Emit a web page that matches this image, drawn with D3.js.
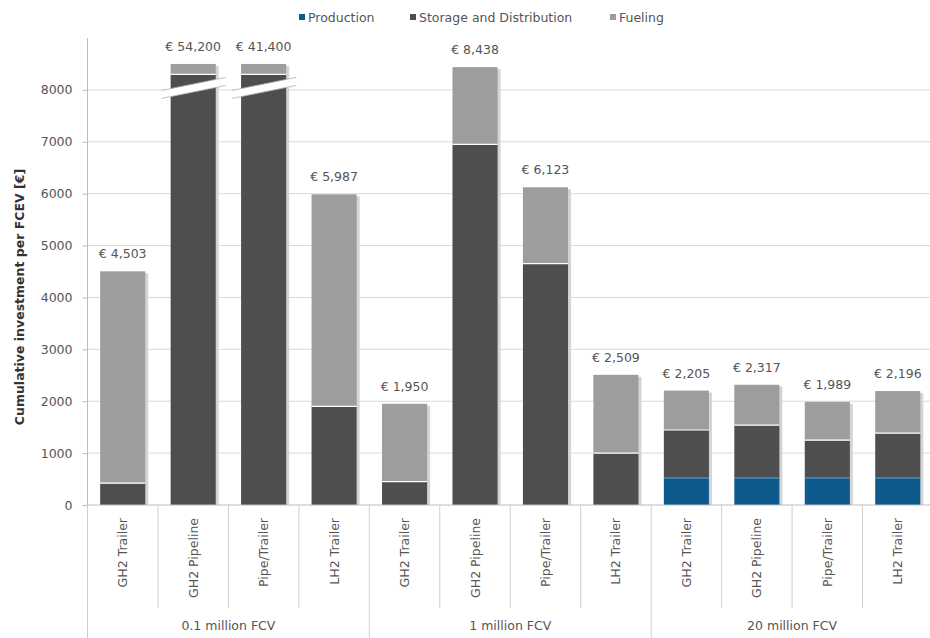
<!DOCTYPE html>
<html><head><meta charset="utf-8">
<script src="https://cdn.jsdelivr.net/npm/d3@7/dist/d3.min.js"></script>
<style>body{margin:0;background:#fff} text{font-family:"DejaVu Sans",sans-serif}</style>
</head><body><svg id="c" width="930" height="638"></svg>
<script>
const groups = ["0.1 million FCV", "1 million FCV", "20 million FCV"];
const categories = ["GH2 Trailer","GH2 Pipeline","Pipe/Trailer","LH2 Trailer",
                    "GH2 Trailer","GH2 Pipeline","Pipe/Trailer","LH2 Trailer",
                    "GH2 Trailer","GH2 Pipeline","Pipe/Trailer","LH2 Trailer"];
const production = [0, 0, 0, 0, 0, 0, 0, 0, 520, 520, 520, 520];
const storage    = [420, 53700, 40900, 1900, 450, 6950, 4650, 1000, 925, 1020, 730, 865];
const fueling    = [4083, 500, 500, 4087, 1500, 1488, 1473, 1509, 760, 777, 739, 811];
const totals     = [4503, 54200, 41400, 5987, 1950, 8438, 6123, 2509, 2205, 2317, 1989, 2196];
const totalLabels = ["€ 4,503","€ 54,200","€ 41,400","€ 5,987","€ 1,950","€ 8,438","€ 6,123","€ 2,509","€ 2,205","€ 2,317","€ 1,989","€ 2,196"];
const yTicks = [0,1000,2000,3000,4000,5000,6000,7000,8000];
const seriesNames = ["Production","Storage and Distribution","Fueling"];
const colors = ["#0d5b8c","#4e4e50","#9d9da0"];
const axisCap = 8500, breakAt = 8300;

const svg = d3.select("#c");
const x = d3.scaleBand().domain(d3.range(categories.length)).range([87.5, 933]).paddingInner(0.36).paddingOuter(0.18);
const y = d3.scaleLinear().domain([0, 9000]).range([505, 38]);
const txt = "#555";

// gridlines
svg.append("g").selectAll("line").data(yTicks.slice(1)).join("line")
  .attr("x1", 87.5).attr("x2", 930).attr("y1", d => y(d)).attr("y2", d => y(d))
  .attr("stroke", "#d9d9d9").attr("stroke-width", 1);

// y axis
const yAxis = svg.append("g").attr("transform", "translate(87.5,0)")
  .call(d3.axisLeft(y).tickValues(yTicks).tickSize(5).tickPadding(10).tickFormat(d3.format("d")));
yAxis.select(".domain").attr("stroke", "#bdbdbd").attr("d", `M0,${y(0)}V${y(9000)}`);
yAxis.selectAll(".tick line").attr("stroke", "#bdbdbd");
yAxis.selectAll("text").attr("fill", txt).style("font-size", "12.5px").style("font-family", "'DejaVu Sans', sans-serif");

svg.append("text").attr("transform", `translate(24,297) rotate(-90)`)
  .attr("text-anchor", "middle").attr("fill", "#333").style("font-size", "12.5px").style("font-weight", "bold")
  .text("Cumulative investment per FCEV [€]");

// stacked bars
const bw = x.bandwidth();
categories.forEach((c, i) => {
  const broken = totals[i] > axisCap;
  const segs = broken
    ? [[0, production[i]], [production[i], breakAt], [breakAt, axisCap]]
    : [[0, production[i]], [production[i], production[i] + storage[i]], [production[i] + storage[i], production[i] + storage[i] + fueling[i]]];
  const top = broken ? axisCap : totals[i];
  const g = svg.append("g");
  g.append("rect").attr("x", x(i) + 3).attr("y", y(top) + 2).attr("width", bw).attr("height", y(0) - y(top) - 2)
    .attr("fill", "#d4d4d4");
  segs.forEach((s, k) => {
    if (s[1] - s[0] <= 0) return;
    g.append("rect").attr("x", x(i)).attr("y", y(s[1])).attr("width", bw).attr("height", y(s[0]) - y(s[1]))
      .attr("fill", colors[k]);
  });
  segs.forEach((s, k) => {
    if (k === 0 || s[1] - s[0] <= 0 || segs[k-1][1] - segs[k-1][0] <= 0) return;
    g.append("line").attr("x1", x(i)).attr("x2", x(i) + bw).attr("y1", y(s[0])).attr("y2", y(s[0]))
      .attr("stroke", k === 1 ? "#5ea6cf" : "#ffffff").attr("stroke-width", 1.2);
  });
  if (broken) {
    const x0 = x(i) - 9, x1 = x(i) + bw + 10;
    const yl = y(7990), yr = y(8240), t = 8;
    g.append("path").attr("d", `M${x0},${yl}L${x1},${yr}L${x1},${yr + t}L${x0},${yl + t}Z`)
      .attr("fill", "#ffffff");
    g.append("path").attr("d", `M${x0},${yl}L${x1},${yr}M${x0},${yl + t}L${x1},${yr + t}`)
      .attr("stroke", "#b0b0b0").attr("stroke-width", 0.8).attr("fill", "none");
  }
  svg.append("text").attr("x", x(i) + bw / 2).attr("y", y(top) - 13)
    .attr("text-anchor", "middle").attr("fill", txt).style("font-size", "12.5px").text(totalLabels[i]);
});

// x axis baseline
svg.append("line").attr("x1", 87.5).attr("x2", 930).attr("y1", y(0)).attr("y2", y(0)).attr("stroke", "#bdbdbd");

// category separators
const step = x.step();
d3.range(categories.length + 1).forEach(k => {
  const xx = 87.5 + k * step;
  const isGroup = k % 4 === 0;
  svg.append("line").attr("x1", xx).attr("x2", xx).attr("y1", y(0)).attr("y2", isGroup ? 638 : 608)
    .attr("stroke", "#cfcfcf");
});

// category labels
svg.append("g").selectAll("text").data(categories).join("text")
  .attr("transform", (d, i) => `translate(${x(i) + bw / 2 + 4.5},518) rotate(-90)`)
  .attr("text-anchor", "end").attr("fill", txt).style("font-size", "12.5px").text(d => d);

// group labels
svg.append("g").selectAll("text").data(groups).join("text")
  .attr("x", (d, gi) => 87.5 + (gi * 4 + 2) * step).attr("y", 630)
  .attr("text-anchor", "middle").attr("fill", txt).style("font-size", "12.5px").text(d => d);

// legend
const legX = [299, 410, 610];
const leg = svg.append("g");
seriesNames.forEach((n, k) => {
  leg.append("rect").attr("x", legX[k]).attr("y", 14).attr("width", 6).attr("height", 6).attr("fill", colors[k]);
  leg.append("text").attr("x", legX[k] + 9).attr("y", 21.5).attr("fill", txt).style("font-size", "12.5px").text(n);
});
</script></body></html>
